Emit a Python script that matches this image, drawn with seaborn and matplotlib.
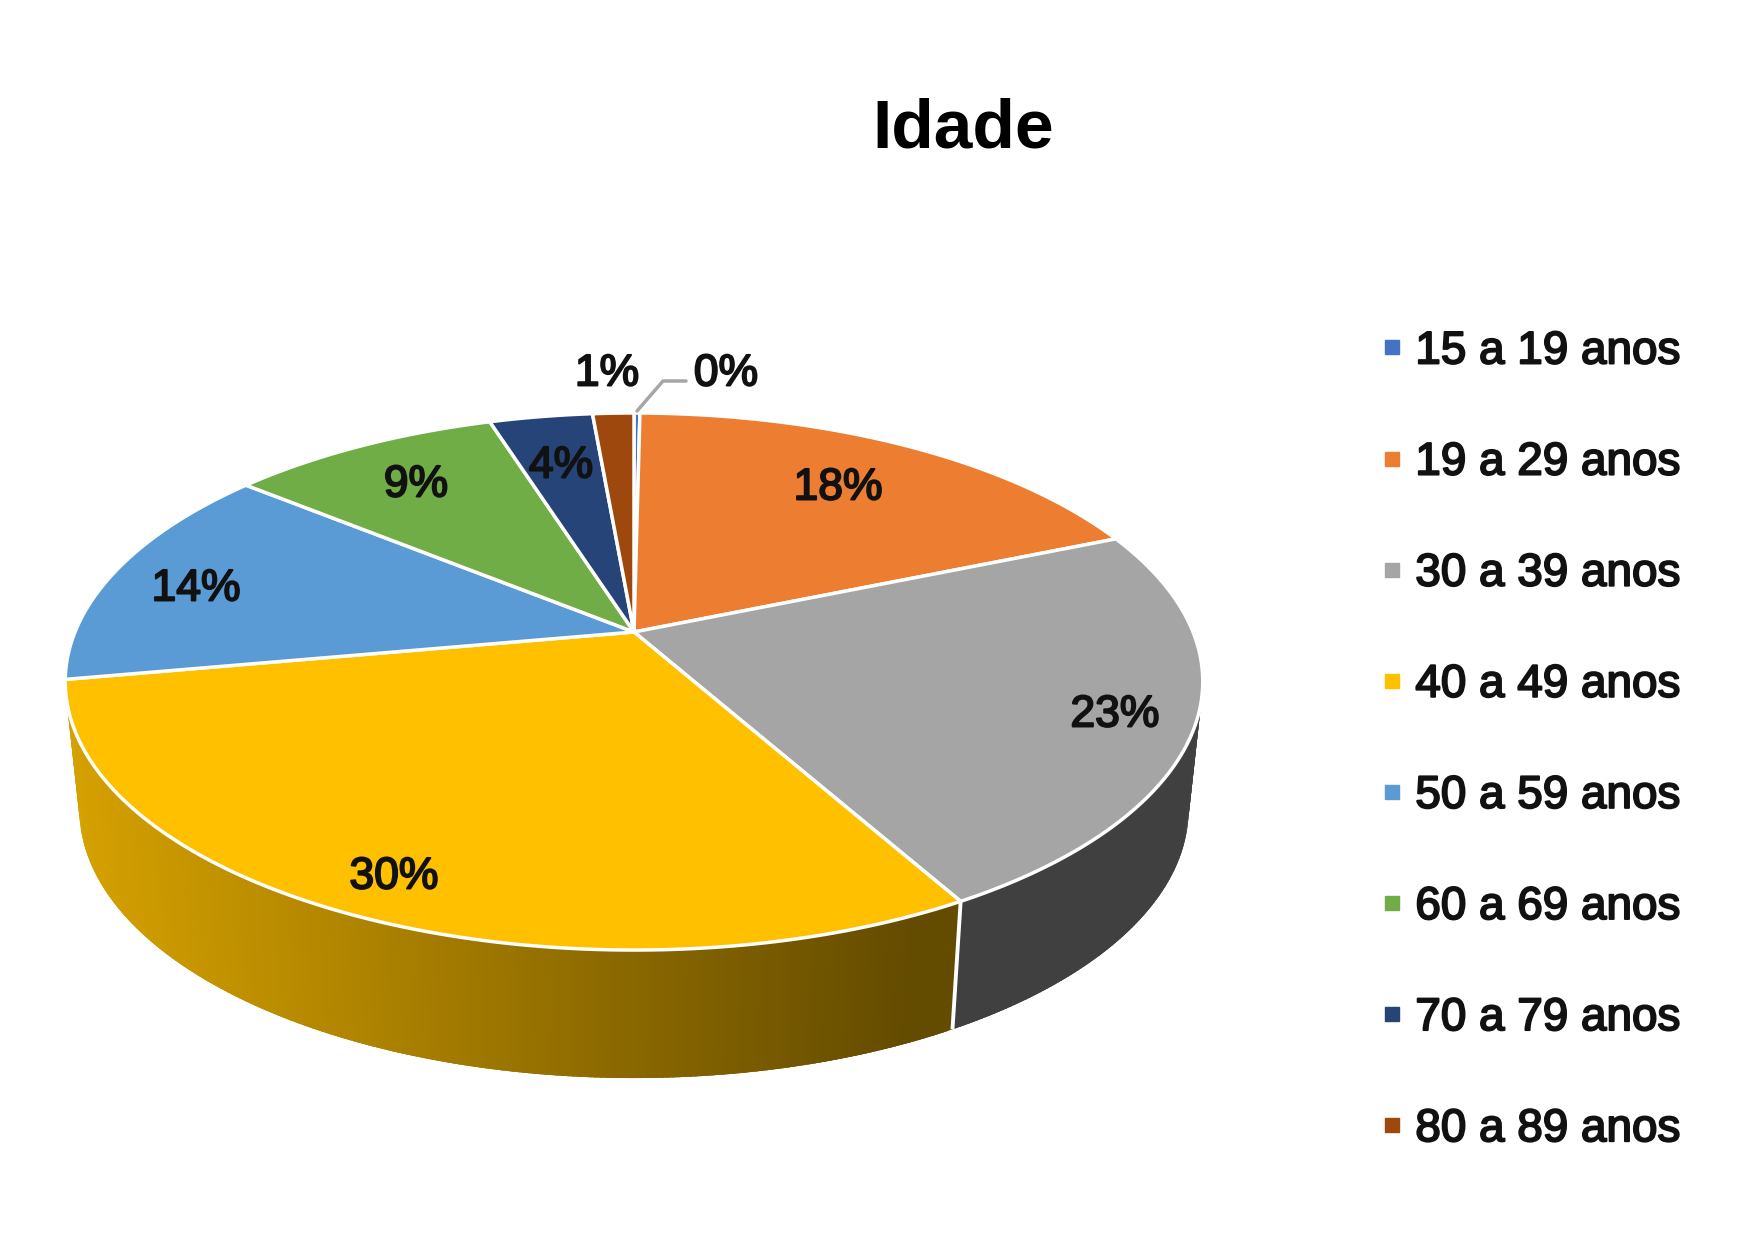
import numpy as np
import pandas as pd
import matplotlib
matplotlib.use('Agg')
import matplotlib.pyplot as plt
import matplotlib.patheffects as pe
from matplotlib.lines import Line2D
import seaborn as sns

faixas = ['15 a 19 anos', '19 a 29 anos', '30 a 39 anos', '40 a 49 anos',
          '50 a 59 anos', '60 a 69 anos', '70 a 79 anos', '80 a 89 anos']
valores = [0.2, 18.5, 23.1, 30.3, 13.7, 9.2, 3.5, 1.4]
cores = ['#4472c4', '#ed7d31', '#a5a5a5', '#ffc000', '#5b9bd5', '#70ad47', '#264478', '#9e480e']

# where the percent labels sit, in pixels
label_xy = [(726, 374), (838, 488), (1115, 715), (394, 877), (196, 589), (416, 485), (561, 466), (607, 374)]

# pie geometry (pixels)
cx, cy = 634, 632
A, B, k = 559, 259.4, 0.1844   # perspective of the top disc
wall_h = 128
wall_sx = 0.975


def topo(theta):
    # theta clockwise from 12 o'clock, radians
    u, v = np.sin(theta), np.cos(theta)
    w = 1 + k * v
    return cx + A * u / w, cy - B * v / w


def base(theta):
    x, y = topo(theta)
    return cx + (x - cx) * wall_sx, y + wall_h


def sombra(x):
    # side wall gets darker to the right, stops at the dark grey level
    return np.maximum(0.39, 0.83 - (x - 80) * 0.44 / 830)


sns.set_theme(style='white')
plt.rcParams['font.family'] = ['Liberation Sans', 'DejaVu Sans']
paleta = sns.color_palette(cores)

df = pd.DataFrame({'faixa': faixas, 'valor': valores})
df['fim'] = df['valor'].cumsum() / df['valor'].sum() * 2 * np.pi
df['ini'] = df['fim'].shift(1, fill_value=0.0)

fig = plt.figure(figsize=(17.49, 12.41), dpi=100)
ax = fig.add_axes([0, 0, 1, 1])
ax.set_xlim(0, 1749)
ax.set_ylim(1241, 0)
ax.axis('off')

# side wall, only the front half of the disc is visible
t_dir = np.pi - np.arcsin(np.sqrt(1 - k ** 2))
t_esq = 2 * np.pi - t_dir
for i, row in df.iterrows():
    a, b = max(row['ini'], t_dir), min(row['fim'], t_esq)
    if b <= a:
        continue
    n = max(2, int((b - a) * 120))
    tt = np.linspace(a, b, n + 1)
    for t0, t1 in zip(tt[:-1], tt[1:]):
        # strips overlap a little so no seams show
        seg = np.linspace(t0, min(t1 + 0.012, b), 4)
        x0, y0 = topo(seg)
        x1, y1 = base(seg)
        f = sombra(x0.mean())
        c = tuple(np.array(paleta[i]) * f)
        ax.fill(np.r_[x0, x1[::-1]], np.r_[y0, y1[::-1]], color=c, lw=0, zorder=1)
    if row['ini'] > t_dir:
        x0, y0 = topo(row['ini'])
        x1, y1 = base(row['ini'])
        ax.plot([x0, x1], [y0, y1], color='white', lw=2.8, zorder=2, solid_capstyle='butt')

# top of the pie
for i, row in df.iterrows():
    tt = np.linspace(row['ini'], row['fim'], 200)
    x, y = topo(tt)
    ax.fill(np.r_[cx, x], np.r_[cy, y], facecolor=paleta[i], edgecolor='white', lw=2.5,
            joinstyle='round', zorder=3)

halo = [pe.withStroke(linewidth=1.4, foreground='#111111')]

for v, (lx, ly) in zip(valores, label_xy):
    ax.text(lx, ly, f'{v:.0f}%', fontsize=32, color='#111111', ha='center', va='center',
            path_effects=halo, zorder=5)

# leader line of the 0% label
ax.plot([637, 663, 686], [411, 381, 381], color='#a6a6a6', lw=2.5, zorder=4)

ax.text(963, 129, 'Idade', fontsize=50, fontweight='bold', color='black', ha='center', va='center')

handles = [Line2D([], [], ls='none', marker='s', ms=10.5, color=c, label=f) for c, f in zip(paleta, faixas)]
leg = ax.legend(handles=handles, loc='upper left', bbox_to_anchor=(1375 / 1749, 1 - 329.5 / 1241),
                bbox_transform=fig.transFigure, frameon=False, fontsize=33, labelspacing=1.464,
                handlelength=0.75, handletextpad=0.13, borderpad=0, borderaxespad=0,
                labelcolor='#111111')
for t in leg.get_texts():
    t.set_path_effects(halo)

fig.savefig('out.png', dpi=100, facecolor='white')
